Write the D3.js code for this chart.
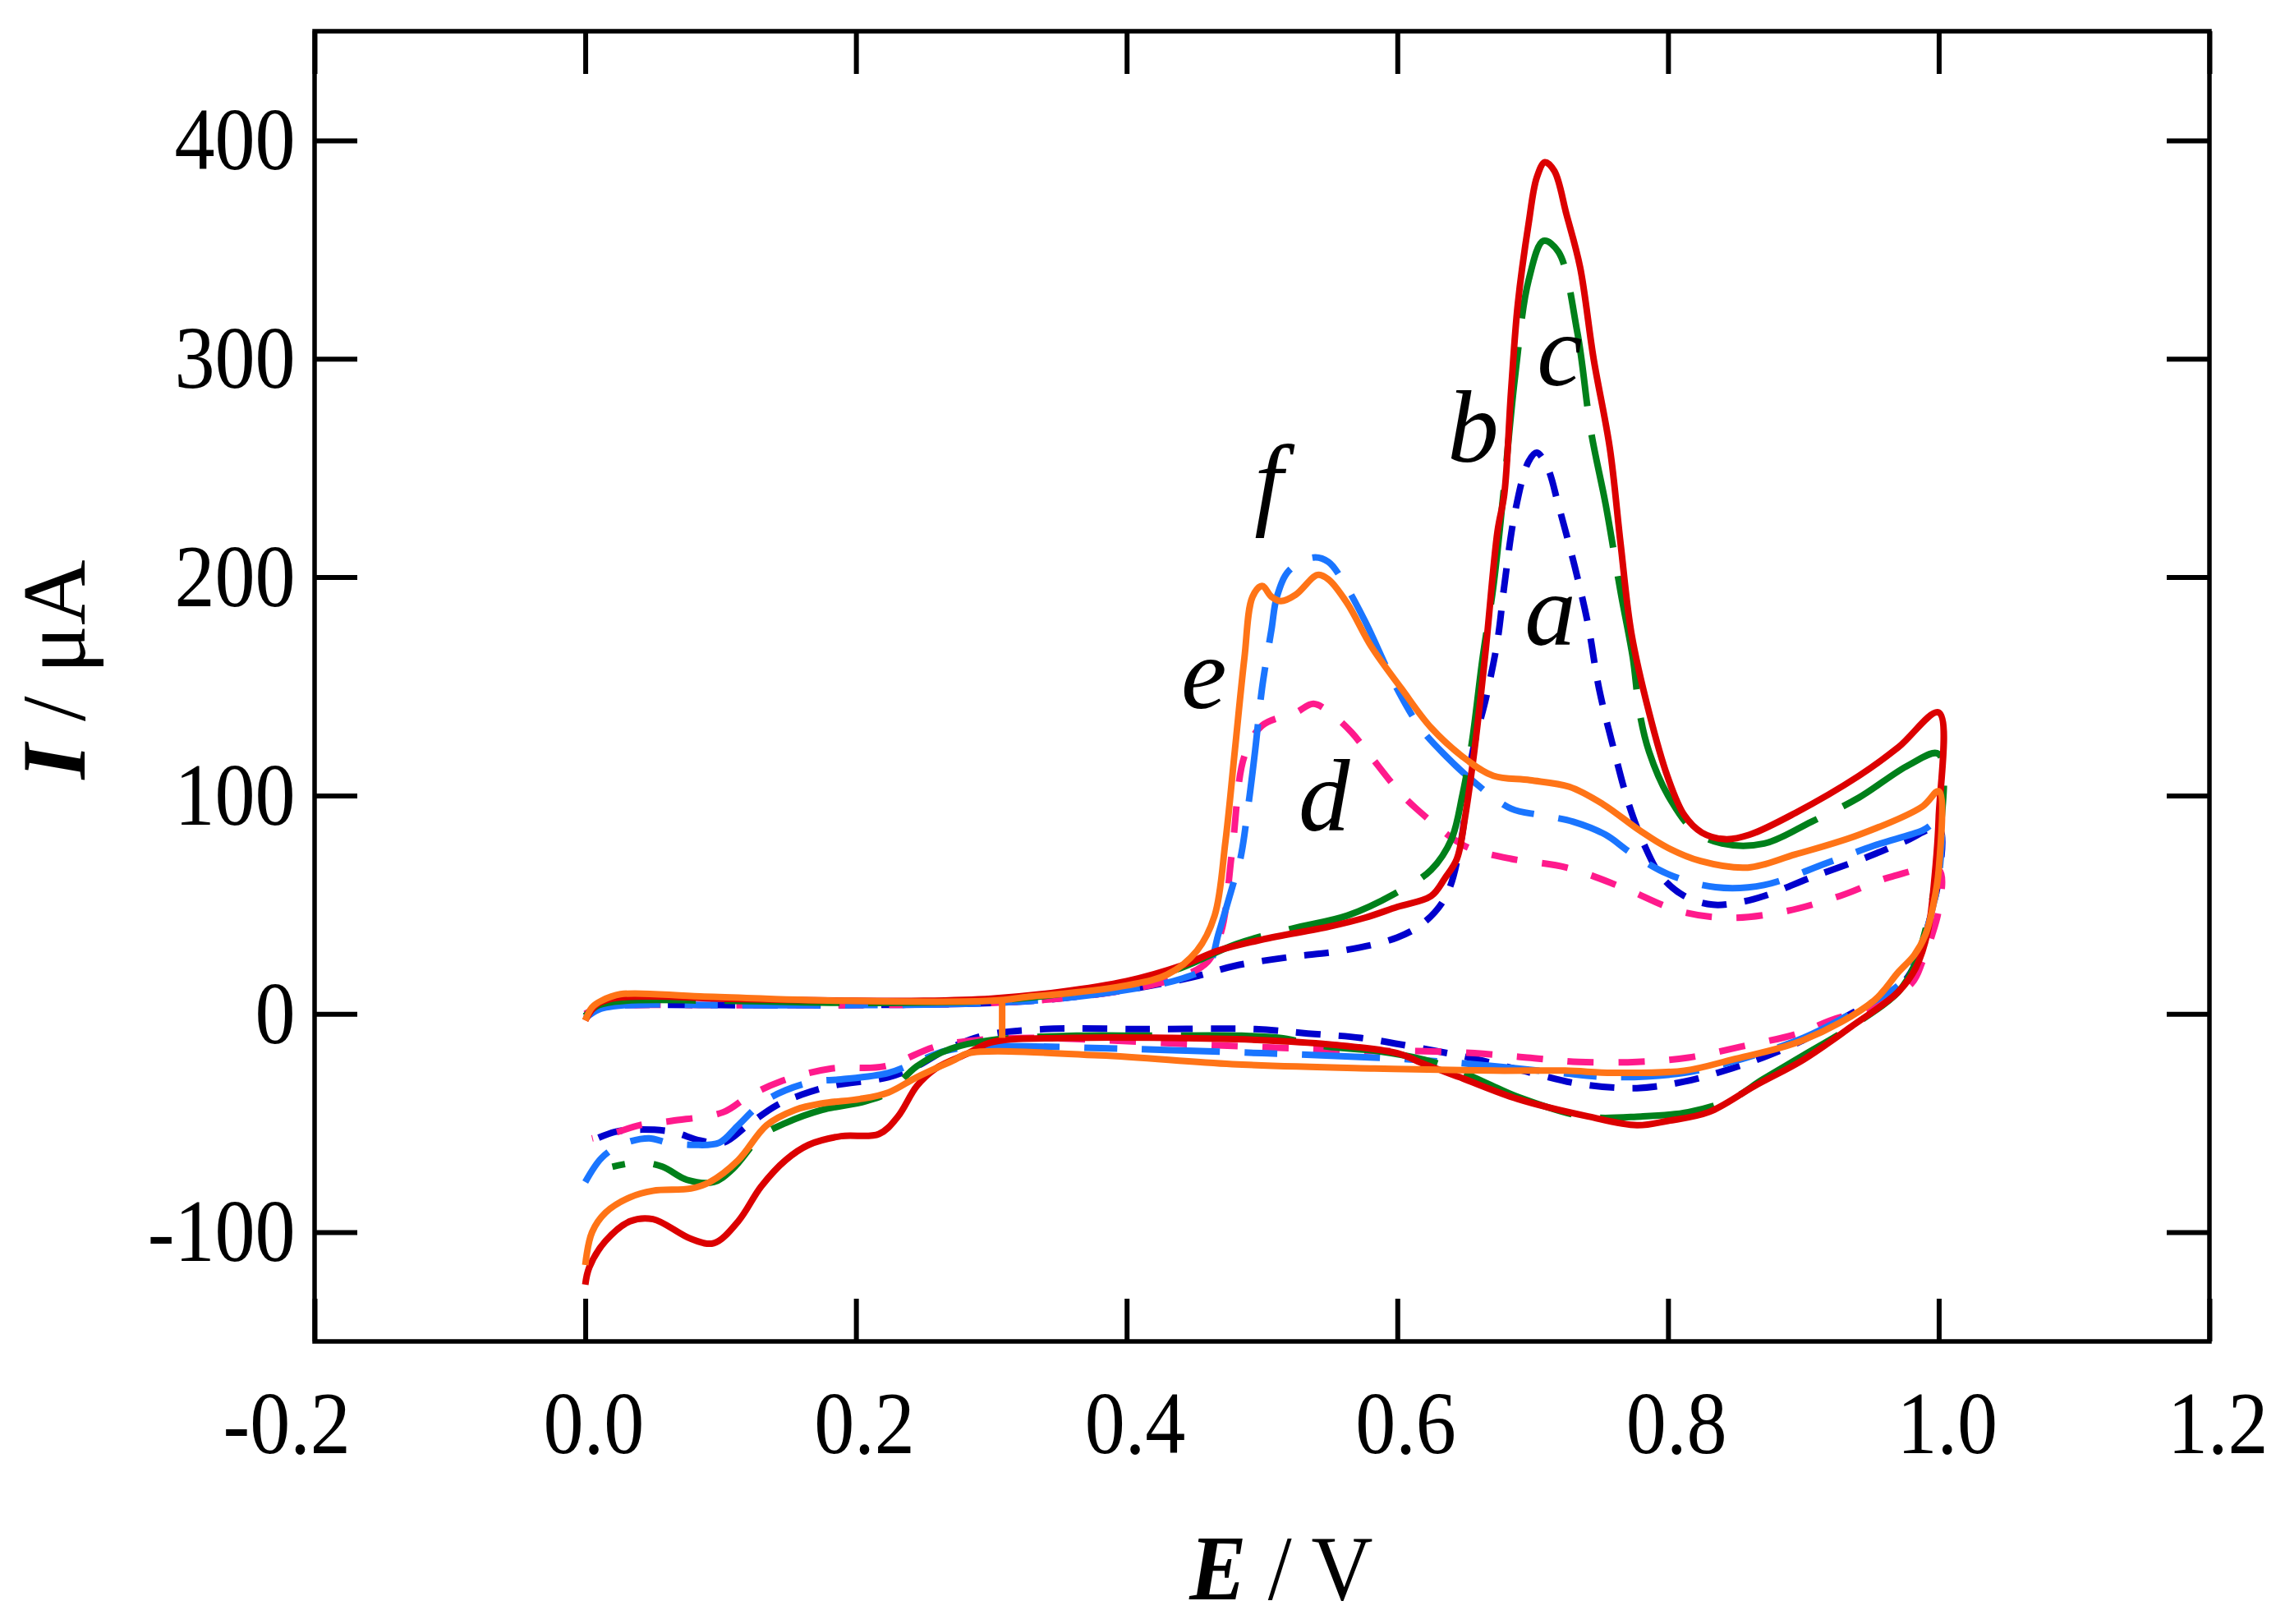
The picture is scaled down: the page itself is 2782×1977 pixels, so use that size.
<!DOCTYPE html>
<html>
<head>
	<title>Voltamperogramas cíclicos</title>
	<meta charset="utf-8" />
	<script src="https://cdnjs.cloudflare.com/ajax/libs/d3/7.8.5/d3.min.js"></script>
<style>
	body { margin: 0; background: #fff; }
	.axis text {
	  font-family: "Liberation Serif", "Times New Roman", serif;
	  font-size: 109px;
	  fill: #000;
	}
	.axis line { stroke: #000; stroke-width: 6; }
	.axis path { display: none; }
	.label {
	  font-family: "Liberation Serif", "Times New Roman", serif;
	  font-style: italic;
	  font-size: 125px;
	}
	.title {
	  font-family: "Liberation Serif", "Times New Roman", serif;
	}
</style>
</head>
<body>
<script>
// ticks
var xTicks = [-0.2, 0.0, 0.2, 0.4, 0.6, 0.8, 1.0, 1.2];
var xTickLabels = ["-0.2", "0.0", "0.2", "0.4", "0.6", "0.8", "1.0", "1.2"];
var yTicks = [-100, 0, 100, 200, 300, 400];
var yTickLabels = ["-100", "0", "100", "200", "300", "400"];

// curve a (dark blue, short dash): [E (V), I (uA)], forward then reverse scan
var curveA = [
  [0.0,-1],[0.01,3],[0.03,4],[0.1,4],[0.2,4],[0.3,5],[0.35,7],[0.4,11],[0.45,17],[0.48,22],
  [0.52,26],[0.56,29],[0.6,35],[0.62,42],[0.636,54],[0.647,79],[0.655,118],[0.666,146],[0.674,171],
  [0.679,196],[0.687,230],[0.697,253],[0.703,257],[0.711,250],[0.719,233],[0.731,205],[0.741,178],
  [0.749,149],[0.76,121],[0.771,96],[0.782,78],[0.795,63],[0.812,54],[0.833,50],[0.852,51],
  [0.871,54],[0.908,63],[0.948,72],[0.975,79],[1.0,85],
  [1.0,62],[0.996,50],[0.99,36],[0.982,22],[0.97,12],[0.935,0],[0.9,-12],[0.87,-20],[0.847,-25],
  [0.812,-31],[0.777,-34],[0.734,-32],[0.699,-27],[0.653,-20],[0.611,-15],[0.573,-11],[0.534,-9],
  [0.495,-7],[0.415,-7],[0.339,-7],[0.294,-10],[0.265,-17],[0.245,-24],[0.224,-29],[0.182,-33],
  [0.16,-37],[0.141,-42],[0.12,-51],[0.102,-59],[0.085,-58],[0.064,-54],[0.04,-53],[0.022,-54],
  [0.005,-58]
];

// curve b (green, long dash)
var curveB = [
  [0.0,-1],[0.01,4],[0.03,6],[0.1,6],[0.2,5],[0.3,6],[0.35,9],[0.4,14],[0.44,21],[0.481,32],
  [0.522,39],[0.563,45],[0.598,55],[0.625,66],[0.64,80],[0.648,100],[0.655,124],[0.663,163],
  [0.671,196],[0.678,236],[0.687,292],[0.697,336],[0.708,354],[0.719,349],[0.733,312],[0.743,267],
  [0.754,233],[0.765,193],[0.774,163],[0.779,138],[0.786,120],[0.8,100],[0.819,84],[0.84,78],
  [0.871,78],[0.906,88],[0.941,99],[0.978,114],[1.0,119],
  [1.0,75],[0.996,55],[0.99,38],[0.982,22],[0.97,10],[0.935,-6],[0.9,-19],[0.87,-30],[0.847,-39],
  [0.815,-45],[0.78,-47],[0.738,-47],[0.689,-38],[0.667,-32],[0.645,-26],[0.62,-21],[0.585,-17],
  [0.548,-15],[0.513,-11],[0.485,-10],[0.416,-10],[0.363,-10],[0.3,-12],[0.27,-16],[0.245,-24],
  [0.224,-36],[0.207,-40],[0.175,-44],[0.148,-50],[0.13,-56],[0.109,-71],[0.095,-77],[0.075,-76],
  [0.057,-70],[0.04,-68],[0.02,-70]
];

// curve c (red, solid)
var curveC = [
  [0.0,-3],[0.008,4],[0.02,7],[0.05,8],[0.1,7],[0.2,6],[0.25,6],[0.3,7],[0.35,10],[0.4,15],
  [0.44,22],[0.468,29],[0.5,34],[0.55,40],[0.576,44],[0.6,49],[0.625,54],[0.635,62],[0.644,71],
  [0.65,90],[0.657,121],[0.665,165],[0.674,221],[0.679,238],[0.684,285],[0.689,325],[0.697,362],
  [0.703,383],[0.709,390],[0.716,386],[0.725,366],[0.735,342],[0.745,300],[0.757,259],[0.765,215],
  [0.773,174],[0.786,138],[0.8,108],[0.812,91],[0.825,83],[0.842,80],[0.86,82],[0.894,92],
  [0.941,109],[0.97,122],[1.0,138],
  [1.0,90],[0.997,63],[0.992,38],[0.983,21],[0.97,10],[0.935,-6],[0.9,-21],[0.864,-33],[0.83,-45],
  [0.8,-49],[0.777,-51],[0.741,-47],[0.689,-39],[0.646,-29],[0.62,-23],[0.6,-18],[0.55,-14],
  [0.5,-12],[0.433,-11],[0.36,-11],[0.3,-13],[0.283,-18],[0.259,-25],[0.245,-33],[0.231,-47],
  [0.217,-55],[0.189,-56],[0.165,-60],[0.148,-67],[0.13,-79],[0.113,-95],[0.095,-105],[0.078,-103],
  [0.05,-94],[0.033,-95],[0.015,-104],[0.003,-116],[0.0,-124]
];

// curve d (pink, dash)
var curveD = [
  [0.0,0],[0.01,3],[0.03,4],[0.1,4],[0.2,4],[0.3,5],[0.35,7],[0.4,11],[0.44,17],[0.46,24],
  [0.47,38],[0.478,75],[0.487,118],[0.5,132],[0.525,138],[0.538,142],[0.552,137],[0.566,129],
  [0.579,119],[0.601,102],[0.614,94],[0.644,79],[0.657,75],[0.684,71],[0.725,67],[0.766,58],
  [0.809,47],[0.847,44],[0.887,47],[0.927,54],[0.966,63],[1.0,66],
  [1.0,48],[0.995,36],[0.988,24],[0.98,14],[0.95,3],[0.92,-3],[0.896,-9],[0.854,-15],[0.815,-20],
  [0.777,-22],[0.734,-22],[0.696,-20],[0.657,-18],[0.615,-17],[0.576,-17],[0.534,-16],[0.492,-15],
  [0.45,-14],[0.381,-12],[0.329,-11],[0.29,-12],[0.259,-15],[0.221,-24],[0.182,-25],[0.144,-31],
  [0.12,-38],[0.102,-45],[0.064,-49],[0.04,-51],[0.024,-54],[0.005,-57]
];

// curve e (light blue, long dash)
var curveE = [
  [0.0,-2],[0.01,2],[0.03,4],[0.1,4],[0.2,4],[0.3,5],[0.35,7],[0.4,11],[0.44,16],[0.46,22],
  [0.468,37],[0.478,58],[0.484,71],[0.49,96],[0.495,121],[0.5,149],[0.507,176],[0.511,191],
  [0.52,203],[0.538,209],[0.549,207],[0.56,198],[0.576,180],[0.598,151],[0.617,131],[0.636,118],
  [0.657,106],[0.684,94],[0.706,91],[0.73,88],[0.754,82],[0.772,74],[0.8,64],[0.835,58],
  [0.871,59],[0.917,69],[0.952,77],[0.988,84],[1.0,88],
  [1.0,62],[0.996,50],[0.99,36],[0.982,23],[0.97,13],[0.935,0],[0.9,-11],[0.847,-22],[0.812,-27],
  [0.759,-29],[0.72,-27],[0.689,-25],[0.636,-22],[0.583,-20],[0.5,-18],[0.398,-16],[0.294,-15],
  [0.266,-17],[0.245,-22],[0.224,-27],[0.189,-30],[0.169,-31],[0.148,-35],[0.13,-41],[0.113,-51],
  [0.099,-59],[0.08,-60],[0.061,-59],[0.047,-57],[0.026,-60],[0.012,-66],[0.0,-77]
];

// curve f (orange, solid)
var curveF = [
  [0.0,-3],[0.005,3],[0.012,6],[0.026,9],[0.085,8],[0.19,6],[0.3,6],[0.33,8],[0.35,9],[0.4,13],
  [0.43,18],[0.452,29],[0.465,45],[0.473,79],[0.48,121],[0.487,163],[0.493,191],[0.5,196],
  [0.507,191],[0.514,189],[0.525,192],[0.541,201],[0.549,199],[0.563,188],[0.581,168],[0.603,149],
  [0.625,131],[0.652,116],[0.671,109],[0.698,107],[0.727,104],[0.752,96],[0.779,84],[0.8,76],
  [0.824,70],[0.859,67],[0.894,73],[0.941,82],[0.988,95],[1.0,102],
  [1.0,66],[0.996,50],[0.99,36],[0.982,27],[0.97,19],[0.952,6],[0.9,-12],[0.847,-21],[0.812,-26],
  [0.759,-27],[0.724,-26],[0.671,-26],[0.583,-25],[0.478,-23],[0.38,-19],[0.283,-18],[0.273,-21],
  [0.245,-29],[0.224,-36],[0.203,-39],[0.175,-41],[0.155,-44],[0.134,-51],[0.113,-67],[0.092,-77],
  [0.078,-80],[0.05,-81],[0.033,-84],[0.015,-91],[0.005,-100],[0.0,-115]
];
// small vertical step of the orange trace
var curveFStep = [[0.308,6],[0.308,-11]];

// curve letters
var labelNames = ["a", "b", "c", "d", "e", "f"];
var labelE = [0.713, 0.656, 0.720, 0.546, 0.457, 0.505];
var labelI = [169, 253, 288, 84, 140, 228];
</script>
<script>
// set the dimensions and margins of the graph
var margin = {top: 38, right: 92, bottom: 344, left: 383},
    width = 2782 - margin.left - margin.right,
    height = 1977 - margin.top - margin.bottom;

var root = d3.select("body").append("svg")
    .attr("width", 2782)
    .attr("height", 1977)
    .attr("viewBox", "0 0 2782 1977");

var svg = root.append("g")
    .attr("transform", "translate(" + margin.left + "," + margin.top + ")");

var x = d3.scaleLinear().domain([-0.2, 1.2]).range([0, width]);
var y = d3.scaleLinear().domain([-150, 450]).range([height, 0]);

// curves
var line = d3.line()
  .x(function(d) { return x(d[0]); })
  .y(function(d) { return y(d[1]); })
  .curve(d3.curveCatmullRom.alpha(0.5));

var series = [
  {data: curveA, color: "#0000cd", dash: "30,22"},
  {data: curveD, color: "#ff1a8c", dash: "32,30"},
  {data: curveE, color: "#1a75ff", dash: "95,30,40,30"},
  {data: curveB, color: "#00801a", dash: "140,35"},
  {data: curveC, color: "#dc0000", dash: null},
  {data: curveF, color: "#ff7417", dash: null},
  {data: curveFStep, color: "#ff7417", dash: null}
];

svg.selectAll("path.cv")
  .data(series)
  .enter()
  .append("path")
    .attr("class", "cv")
    .attr("d", function(d) { return line(d.data); })
    .attr("fill", "none")
    .attr("stroke", function(d) { return d.color; })
    .attr("stroke-width", 8)
    .attr("stroke-linejoin", "round")
    .attr("stroke-dasharray", function(d) { return d.dash; });

// frame
svg.append("rect")
  .attr("x", 0).attr("y", 0)
  .attr("width", width).attr("height", height)
  .attr("fill", "none")
  .attr("stroke", "#000")
  .attr("stroke-width", 5.5);

// X axis (bottom with labels, top ticks only)
var xb = svg.append("g")
  .attr("class", "axis")
  .attr("transform", "translate(0," + height + ")")
  .call(d3.axisBottom(x).tickValues(xTicks).tickSize(-52).tickPadding(59)
    .tickFormat(function(d, i) { return xTickLabels[i]; }));
xb.selectAll("text")
  .attr("transform", "scale(0.9,1)")
  .attr("dx", function(d) { return d < 0 ? "-0.35em" : "0.1em"; });

svg.append("g")
  .attr("class", "axis")
  .call(d3.axisTop(x).tickValues(xTicks).tickSize(-52).tickFormat(""));

// Y axis (left with labels, right ticks only)
var yl = svg.append("g")
  .attr("class", "axis")
  .call(d3.axisLeft(y).tickValues(yTicks).tickSize(-52).tickPadding(26)
    .tickFormat(function(d, i) { return yTickLabels[i]; }));
yl.selectAll("text")
  .attr("transform", "scale(0.9,1)");

svg.append("g")
  .attr("class", "axis")
  .attr("transform", "translate(" + width + ",0)")
  .call(d3.axisRight(y).tickValues(yTicks).tickSize(-52).tickFormat(""));

// curve letters
svg.selectAll("text.label")
  .data(labelNames)
  .enter()
  .append("text")
    .attr("class", "label")
    .attr("x", function(d, i) { return x(labelE[i]); })
    .attr("y", function(d, i) { return y(labelI[i]); })
    .attr("text-anchor", "middle")
    .text(function(d) { return d; });

// axis titles
var xt = root.append("text")
  .attr("class", "title")
  .attr("transform", "translate(1560,1947) scale(0.92,1)")
  .attr("text-anchor", "middle")
  .style("font-size", "113px");
xt.append("tspan").style("font-weight", "bold").style("font-style", "italic").text("E");
xt.append("tspan").text(" / V");

var yt = root.append("text")
  .attr("class", "title")
  .attr("transform", "translate(103,815) rotate(-90)")
  .attr("text-anchor", "middle")
  .style("font-size", "110px");
yt.append("tspan").style("font-weight", "bold").style("font-style", "italic").text("I");
yt.append("tspan").text(" / \u03bcA");
</script>
</body>
</html>
